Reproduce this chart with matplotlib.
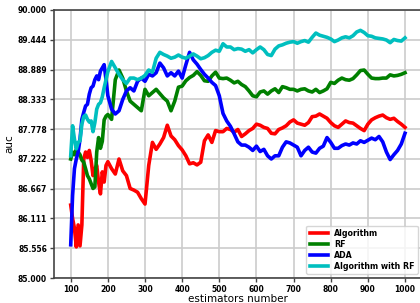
import numpy as np
import matplotlib
matplotlib.use('Agg')
import matplotlib.pyplot as plt

# number of estimators (step 5 up to 200, then step 10)
n_est = list(range(100, 200, 5)) + list(range(200, 1001, 10))

algo = [86.36, 86.11, 85.93, 85.58, 85.99, 85.60, 85.99, 87.22, 87.35, 87.25,
        87.38, 87.19, 86.91, 87.04, 87.10, 86.79, 86.57, 86.98, 86.79, 87.10,
        87.17, 87.04, 86.94, 87.22, 87.00, 86.91, 86.67, 86.64, 86.60, 86.48,
        86.38, 87.10, 87.53, 87.40, 87.50, 87.62, 87.85, 87.65, 87.58, 87.47,
        87.39, 87.28, 87.13, 87.15, 87.11, 87.16, 87.56, 87.67, 87.53, 87.75,
        87.73, 87.73, 87.79, 87.77, 87.72, 87.77, 87.64, 87.69, 87.75, 87.79,
        87.87, 87.85, 87.81, 87.79, 87.70, 87.69, 87.77, 87.80, 87.84, 87.91,
        87.95, 87.89, 87.87, 87.85, 87.90, 88.01, 88.02, 88.06, 88.02, 87.98,
        87.90, 87.84, 87.81, 87.87, 87.93, 87.90, 87.89, 87.84, 87.79, 87.75,
        87.87, 87.95, 87.99, 88.02, 88.04, 87.99, 87.96, 87.98, 87.92, 87.87,
        87.81]

rf = [87.22, 87.35, 87.30, 87.40, 87.35, 87.30, 87.20, 87.16, 87.04, 86.91,
      86.85, 86.76, 86.67, 86.70, 87.35, 87.62, 87.42, 87.55, 87.95, 88.02,
      88.05, 87.96, 88.70, 88.88, 88.73, 88.49, 88.30, 88.24, 88.18, 88.12,
      88.52, 88.40, 88.46, 88.52, 88.44, 88.36, 88.30, 88.12, 88.30, 88.56,
      88.58, 88.68, 88.74, 88.78, 88.85, 88.78, 88.68, 88.67, 88.77, 88.84,
      88.73, 88.72, 88.73, 88.69, 88.64, 88.67, 88.61, 88.57, 88.49, 88.40,
      88.38, 88.47, 88.49, 88.43, 88.49, 88.53, 88.46, 88.57, 88.55, 88.52,
      88.52, 88.49, 88.52, 88.53, 88.49, 88.47, 88.52, 88.46, 88.49, 88.53,
      88.65, 88.63, 88.69, 88.73, 88.70, 88.69, 88.72, 88.79, 88.87, 88.88,
      88.80, 88.73, 88.72, 88.72, 88.73, 88.73, 88.79, 88.77, 88.78, 88.80,
      88.83]

ada = [85.62, 86.54, 87.04, 87.22, 87.35, 87.59, 87.96, 88.09, 88.21, 88.24,
       88.43, 88.55, 88.58, 88.70, 88.77, 88.70, 88.86, 88.92, 88.98, 88.70,
       88.40, 88.15, 88.06, 88.12, 88.33, 88.49, 88.55, 88.49, 88.67, 88.73,
       88.67, 88.80, 88.77, 88.83, 89.01, 88.92, 88.77, 88.83, 88.77, 88.86,
       88.73, 88.98, 89.21, 89.07, 88.99, 88.89, 88.80, 88.73, 88.65, 88.59,
       88.40, 88.07, 87.93, 87.83, 87.69, 87.54, 87.48, 87.48, 87.44, 87.38,
       87.46, 87.36, 87.40, 87.28, 87.22, 87.28, 87.28, 87.44, 87.54, 87.52,
       87.48, 87.44, 87.28, 87.38, 87.44, 87.35, 87.33, 87.42, 87.46, 87.62,
       87.53, 87.42, 87.42, 87.47, 87.50, 87.48, 87.52, 87.50, 87.56, 87.53,
       87.57, 87.61, 87.58, 87.64, 87.54, 87.35, 87.21, 87.30, 87.38, 87.50,
       87.70]

algo_rf = [87.28, 87.84, 87.59, 87.41, 87.53, 87.56, 87.87, 88.01, 88.04, 87.96,
           87.91, 87.93, 87.73, 87.90, 88.15, 88.24, 88.27, 88.38, 88.55, 88.70,
           88.85, 89.04, 88.92, 88.80, 88.70, 88.63, 88.73, 88.73, 88.70, 88.73,
           88.78, 88.88, 88.84, 89.10, 89.21, 89.17, 89.14, 89.10, 89.12, 89.16,
           89.12, 89.10, 89.14, 89.18, 89.14, 89.09, 89.11, 89.15, 89.21, 89.25,
           89.23, 89.37, 89.31, 89.31, 89.26, 89.28, 89.27, 89.23, 89.26, 89.20,
           89.26, 89.31, 89.26, 89.17, 89.15, 89.27, 89.33, 89.35, 89.38, 89.40,
           89.41, 89.38, 89.41, 89.43, 89.40, 89.49, 89.57, 89.53, 89.51, 89.49,
           89.46, 89.41, 89.44, 89.48, 89.50, 89.48, 89.52, 89.59, 89.62, 89.58,
           89.52, 89.51, 89.48, 89.47, 89.46, 89.44, 89.39, 89.45, 89.43, 89.42,
           89.48]

xticks = list(range(100, 1001, 100))
yticks = np.linspace(85, 90, 10)

fig = plt.figure(figsize=(4.2, 3.03), dpi=100)
ax = fig.add_axes([0.1286, 0.0825, 0.8755, 0.8845])

ax.plot(n_est, algo, color='r', lw=2.6, label='Algorithm')
ax.plot(n_est, rf, color='g', lw=2.6, label='RF')
ax.plot(n_est, ada, color='b', lw=2.6, label='ADA')
ax.plot(n_est, algo_rf, color='c', lw=2.6, label='Algorithm with RF')

ax.set_ylim(85, 90)
ax.set_xticks(xticks)
ax.set_yticks(yticks)
ax.set_yticklabels(['%.3f' % v for v in yticks])
ax.grid(True, color='#cccccc', lw=1.2)
ax.set_axisbelow(True)

for lab in ax.get_xticklabels() + ax.get_yticklabels():
    lab.set_fontweight('bold')
ax.tick_params(labelsize=5.5, length=3, width=1, color='#444444', pad=2)
for s in ax.spines.values():
    s.set_color('#444444')
    s.set_linewidth(1.2)

ax.set_xlabel('estimators number', fontsize=7.5, labelpad=0)
ax.set_ylabel('auc', fontsize=7.5, labelpad=2)

ax.legend(loc='lower right', prop={'size': 5.7, 'weight': 'bold'},
          labelspacing=0.25, handlelength=2.3)

fig.savefig('out.png', dpi=100)
